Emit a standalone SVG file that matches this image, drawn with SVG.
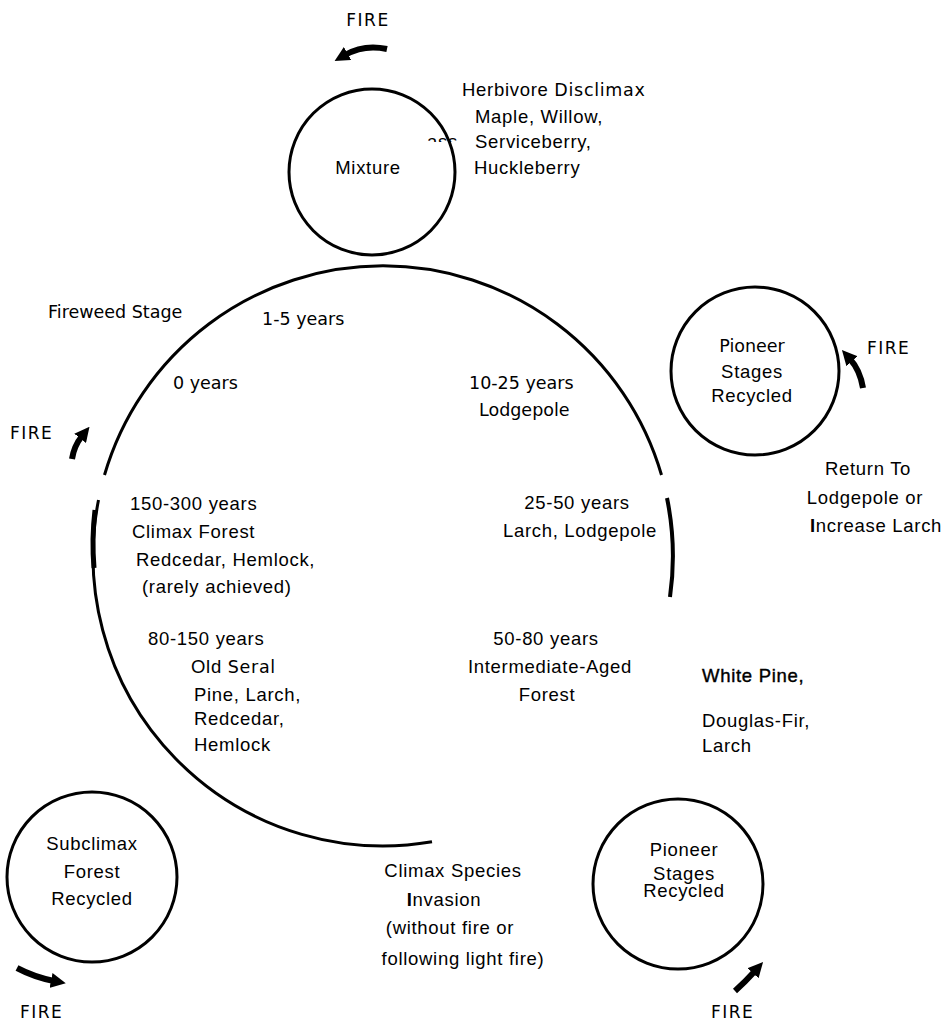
<svg xmlns="http://www.w3.org/2000/svg" width="946" height="1026" viewBox="0 0 946 1026">
<style>
.a{font-family:"Liberation Sans",Arial,sans-serif;font-size:18.5px;letter-spacing:0.7px;fill:#000}
.b{font-family:"DejaVu Sans",sans-serif;font-size:17.5px;fill:#000}
.f{font-family:"DejaVu Sans",sans-serif;font-size:17px;letter-spacing:1.5px;fill:#000}
.m{text-anchor:middle}
.ring{fill:none;stroke:#000;stroke-width:3}
.arr{fill:none;stroke:#000;stroke-width:6;stroke-linecap:butt}
</style>
<defs>
<marker id="head" viewBox="0 0 10 10" refX="2" refY="5" markerWidth="15" markerHeight="15" markerUnits="userSpaceOnUse" orient="auto">
<path d="M0,0 L10,5 L0,10 Z" fill="#000"/>
</marker>
<clipPath id="cut"><rect x="420" y="120" width="50" height="22"/></clipPath>
</defs>
<rect width="946" height="1026" fill="#fff"/>

<g id="connectors">
<path class="ring" d="M104.5,475 A290,290 0 0 1 661.5,475"/>
<path class="ring" d="M98.5,500 A290,290 0 0 0 432,841.8"/>
<path class="ring" style="stroke-width:4" d="M667,498 A290,290 0 0 1 670,597"/>
<path class="ring" style="stroke-width:5" d="M95,510 A290,290 0 0 0 94,568"/>
<path class="arr" marker-end="url(#head)" d="M387,49 Q364,44 345,55"/>
<path class="arr" marker-end="url(#head)" d="M72,459 Q74,446 82,436"/>
<path class="arr" marker-end="url(#head)" d="M863,388 Q860,370 850,359"/>
<path class="arr" marker-end="url(#head)" d="M17,968 Q34,977 54,981"/>
<path class="arr" marker-end="url(#head)" d="M735,991 Q745,982 755,971"/>
</g>

<g id="mixture">
<circle class="ring" cx="372" cy="172" r="83"/>
<text class="a m" x="368" y="174">Mixture</text>
<text class="a" x="427" y="148" clip-path="url(#cut)">ass</text>
</g>
<g id="herbivore">
<text class="a" x="462" y="96">Herbivore <tspan class="b">Disclimax</tspan></text>
<text class="a" x="475" y="123">Maple, Willow,</text>
<text class="a" x="475" y="148">Serviceberry,</text>
<text class="a" x="474" y="174">Huckleberry</text>
</g>
<g id="fire-top"><text class="f m" x="368" y="26">FIRE</text></g>

<g id="fireweed">
<text class="b" x="48" y="318">Fireweed Stage</text>
<text class="b" x="262" y="325">1-5 years</text>
<text class="b" x="173" y="389">0 years</text>
</g>
<g id="fire-left"><text class="f" x="10" y="439">FIRE</text></g>
<g id="lodgepole">
<text class="b" x="469" y="389">10-25 years</text>
<text class="b" x="479" y="416">Lodgepole</text>
</g>
<g id="climax-forest">
<text class="a" x="130" y="510">150-300 years</text>
<text class="a" x="132" y="538">Climax Forest</text>
<text class="a" x="136" y="566">Redcedar,  Hemlock,</text>
<text class="a" x="142" y="593">(rarely achieved)</text>
</g>
<g id="old-seral">
<text class="a" x="148" y="645">80-150 years</text>
<text class="a" x="191" y="673">Old <tspan class="b">Seral</tspan></text>
<text class="a" x="194" y="701">Pine,  Larch,</text>
<text class="a" x="194" y="725">Redcedar,</text>
<text class="a" x="194" y="751">Hemlock</text>
</g>
<g id="larch-lodgepole">
<text class="a m" x="577" y="509">25-50 years</text>
<text class="a m" x="580" y="537">Larch,  Lodgepole</text>
</g>
<g id="intermediate">
<text class="a m" x="546" y="645">50-80 years</text>
<text class="a m" x="550" y="673">Intermediate-Aged</text>
<text class="a m" x="547" y="701">Forest</text>
</g>
<g id="white-pine">
<text class="a" x="702" y="682" style="stroke:#000;stroke-width:0.4">White Pine,</text>
<text class="a" x="702" y="727">Douglas-Fir,</text>
<text class="a" x="702" y="752">Larch</text>
</g>
<g id="pioneer-top">
<circle class="ring" cx="755" cy="371" r="84"/>
<text class="b m" x="752" y="352">Pioneer</text>
<text class="a m" x="752" y="378">Stages</text>
<text class="a m" x="752" y="402">Recycled</text>
</g>
<g id="fire-right"><text class="f" x="867" y="354">FIRE</text></g>
<g id="return">
<text class="a m" x="868" y="475">Return To</text>
<text class="a m" x="865" y="504">Lodgepole or</text>
<text class="a m" x="876" y="532"><tspan style="font-weight:bold">I</tspan>ncrease Larch</text>
</g>
<g id="subclimax">
<circle class="ring" cx="92" cy="877" r="85"/>
<text class="a m" x="92" y="850">Subclimax</text>
<text class="a m" x="92" y="878">Forest</text>
<text class="a m" x="92" y="905">Recycled</text>
</g>
<g id="fire-bl"><text class="f" x="20" y="1018">FIRE</text></g>
<g id="invasion">
<text class="a m" x="453" y="877">Climax Species</text>
<text class="a m" x="444" y="906"><tspan style="font-weight:bold">I</tspan>nvasion</text>
<text class="a m" x="450" y="934">(without fire or</text>
<text class="a m" x="463" y="965">following light fire)</text>
</g>
<g id="pioneer-bottom">
<circle class="ring" cx="678" cy="884" r="85"/>
<text class="a m" x="684" y="856">Pioneer</text>
<text class="a m" x="684" y="880">Stages</text>
<text class="a m" x="684" y="897">Recycled</text>
</g>
<g id="fire-br"><text class="f" x="711" y="1018">FIRE</text></g>
</svg>
